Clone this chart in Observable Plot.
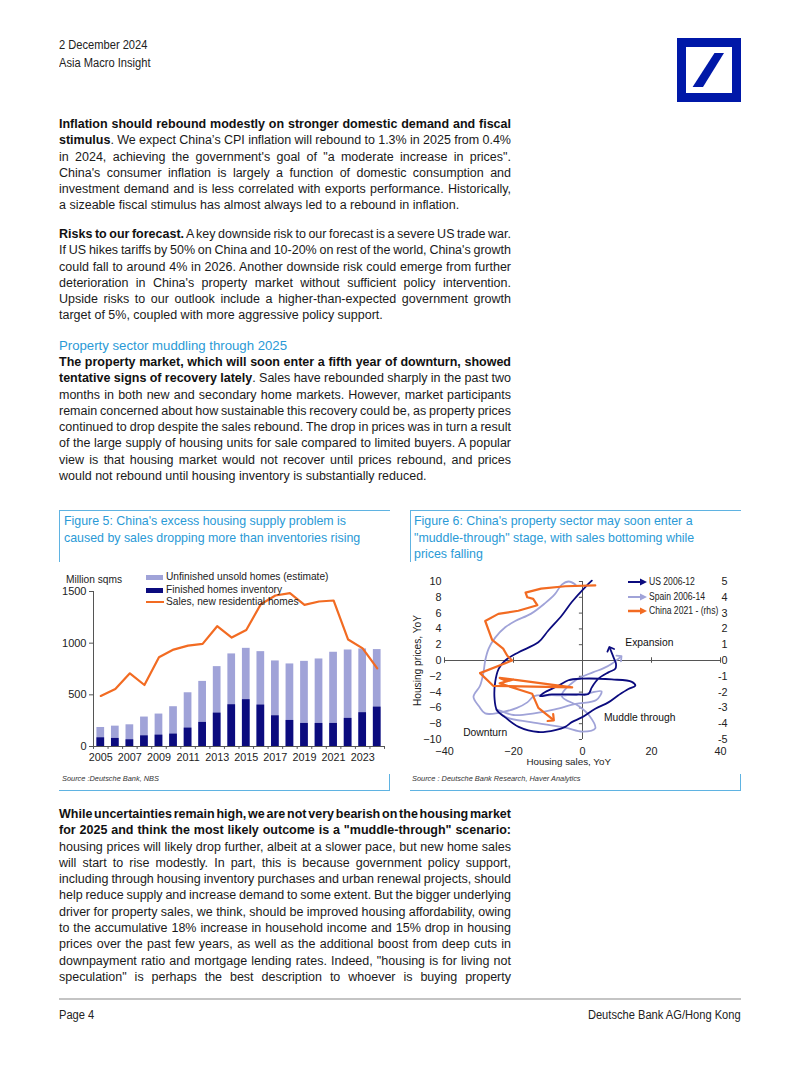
<!DOCTYPE html>
<html><head><meta charset="utf-8">
<script src="https://cdn.jsdelivr.net/npm/d3@7"></script>
<script src="https://cdn.jsdelivr.net/npm/@observablehq/plot@0.6"></script>
<style>
html,body{margin:0;padding:0;background:#fff;}
body{width:802px;height:1068px;position:relative;overflow:hidden;font-family:"Liberation Sans",Arial,sans-serif;color:#1a1a1a;}
.abs{position:absolute;}
.hdr{font-family:"Liberation Sans",Arial,sans-serif;font-size:12.5px;color:#222;white-space:nowrap;transform:scaleX(0.89);transform-origin:left top;}
.hdr.r{transform-origin:right top;}
.para{position:absolute;left:59px;width:452px;font-size:12.5px;line-height:16.3px;color:#1a1a1a;}
.ln{white-space:nowrap;height:16.3px;}
.ln b{font-weight:bold;color:#111;}
.head{position:absolute;left:59px;font-size:13.2px;color:#2a9ad6;white-space:nowrap;}
.ftitle{position:absolute;font-size:12.4px;line-height:16.6px;color:#2a9ad6;white-space:nowrap;}
.hline{position:absolute;height:1px;background:#5fb3e2;}
.vline{position:absolute;width:1px;background:#5fb3e2;}
.src{position:absolute;font-size:7.4px;font-style:italic;color:#333;white-space:nowrap;}
.leg{position:absolute;font-size:10.2px;color:#222;white-space:nowrap;line-height:12px;}
.leg6{position:absolute;font-size:10px;color:#222;white-space:nowrap;line-height:12px;transform:scaleX(0.86);transform-origin:left top;}
.chart{position:absolute;}
</style>
</head><body>

<div class="abs hdr" style="left:59px;top:38px;">2 December 2024</div>
<div class="abs hdr" style="left:59px;top:56px;">Asia Macro Insight</div>
<svg class="abs" style="left:677px;top:38px" width="64" height="64" viewBox="0 0 64 64">
  <rect x="4.5" y="4.5" width="55" height="55" fill="none" stroke="#0018a8" stroke-width="9"/>
  <polygon points="15.6,49 26,49 47,15 37.5,15" fill="#0018a8"/>
</svg>

<div class="para" style="top:116px;">
  <div class="ln j"><span><b>Inflation should rebound modestly on stronger domestic demand and fiscal</b></span></div>
  <div class="ln j"><span><b>stimulus</b>. We expect China’s CPI inflation will rebound to 1.3% in 2025 from 0.4%</span></div>
  <div class="ln j"><span>in 2024, achieving the government's goal of "a moderate increase in prices".</span></div>
  <div class="ln j"><span>China's consumer inflation is largely a function of domestic consumption and</span></div>
  <div class="ln j"><span>investment demand and is less correlated with exports performance. Historically,</span></div>
  <div class="ln"><span>a sizeable fiscal stimulus has almost always led to a rebound in inflation.</span></div>
</div>

<div class="para" style="top:226px;">
  <div class="ln j"><span><b>Risks to our forecast.</b> A key downside risk to our forecast is a severe US trade war.</span></div>
  <div class="ln j"><span>If US hikes tariffs by 50% on China and 10-20% on rest of the world, China's growth</span></div>
  <div class="ln j"><span>could fall to around 4% in 2026. Another downside risk could emerge from further</span></div>
  <div class="ln j"><span>deterioration in China's property market without sufficient policy intervention.</span></div>
  <div class="ln j"><span>Upside risks to our outlook include a higher-than-expected government growth</span></div>
  <div class="ln"><span>target of 5%, coupled with more aggressive policy support.</span></div>
</div>

<div class="head" style="top:338px;">Property sector muddling through 2025</div>

<div class="para" style="top:354px;">
  <div class="ln j"><span><b>The property market, which will soon enter a fifth year of downturn, showed</b></span></div>
  <div class="ln j"><span><b>tentative signs of recovery lately</b>. Sales have rebounded sharply in the past two</span></div>
  <div class="ln j"><span>months in both new and secondary home markets. However, market participants</span></div>
  <div class="ln j"><span>remain concerned about how sustainable this recovery could be, as property prices</span></div>
  <div class="ln j"><span>continued to drop despite the sales rebound. The drop in prices was in turn a result</span></div>
  <div class="ln j"><span>of the large supply of housing units for sale compared to limited buyers. A popular</span></div>
  <div class="ln j"><span>view is that housing market would not recover until prices rebound, and prices</span></div>
  <div class="ln"><span>would not rebound until housing inventory is substantially reduced.</span></div>
</div>

<!-- Figure 5 frame -->
<div class="hline" style="left:59px;top:510px;width:331px;"></div>
<div class="vline" style="left:59px;top:510px;height:52px;"></div>
<div class="hline" style="left:59px;top:790px;width:331px;"></div>
<div class="vline" style="left:389px;top:774px;height:16px;"></div>
<div class="ftitle" style="left:64px;top:513px;">Figure 5: China's excess housing supply problem is<br>caused by sales dropping more than inventories rising</div>
<div class="src" style="left:62px;top:774px;">Source :Deutsche Bank, NBS</div>

<!-- Figure 6 frame -->
<div class="hline" style="left:410px;top:510px;width:331px;"></div>
<div class="vline" style="left:410px;top:510px;height:52px;"></div>
<div class="hline" style="left:410px;top:790px;width:331px;"></div>
<div class="vline" style="left:740px;top:774px;height:16px;"></div>
<div class="ftitle" style="left:414px;top:513px;">Figure 6: China's property sector may soon enter a<br>"muddle-through" stage, with sales bottoming while<br>prices falling</div>
<div class="src" style="left:412px;top:774px;">Source : Deutsche Bank Research, Haver Analytics</div>

<div id="chart5" class="chart" style="left:59px;top:570px;"></div>
<div id="chart6" class="chart" style="left:410px;top:570px;"></div>

<!-- legends -->
<div class="leg" style="left:66px;top:574px;">Million sqms</div>
<div class="abs" style="left:146px;top:574.5px;width:17px;height:5px;background:#a0a3d8;"></div>
<div class="leg" style="left:166px;top:571px;">Unfinished unsold homes (estimate)</div>
<div class="abs" style="left:146px;top:587.5px;width:17px;height:5px;background:#0b0b7e;"></div>
<div class="leg" style="left:166px;top:584px;">Finished homes inventory</div>
<div class="abs" style="left:146px;top:601px;width:18px;height:2px;background:#f26b22;"></div>
<div class="leg" style="left:166px;top:596px;">Sales, new residential homes</div>

<svg class="abs" style="left:627px;top:577px" width="22" height="40">
  <line x1="1" y1="5" x2="15" y2="5" stroke="#0b0b7e" stroke-width="2"/><polygon points="13,1.5 20,5 13,8.5" fill="#0b0b7e"/>
  <line x1="1" y1="20" x2="15" y2="20" stroke="#a0a3d8" stroke-width="2"/><polygon points="13,16.5 20,20 13,23.5" fill="#a0a3d8"/>
  <line x1="1" y1="34" x2="15" y2="34" stroke="#f26b22" stroke-width="2.5"/><polygon points="13,30.5 20,34 13,37.5" fill="#f26b22"/>
</svg>
<div class="leg6" style="left:649px;top:576px;">US 2006-12</div>
<div class="leg6" style="left:649px;top:591px;">Spain 2006-14</div>
<div class="leg6" style="left:649px;top:605px;">China 2021 - (rhs)</div>

<div class="para" style="top:806px;">
  <div class="ln j"><span><b>While uncertainties remain high, we are not very bearish on the housing market</b></span></div>
  <div class="ln j"><span><b>for 2025 and think the most likely outcome is a "muddle-through" scenario:</b></span></div>
  <div class="ln j"><span>housing prices will likely drop further, albeit at a slower pace, but new home sales</span></div>
  <div class="ln j"><span>will start to rise modestly. In part, this is because government policy support,</span></div>
  <div class="ln j"><span>including through housing inventory purchases and urban renewal projects, should</span></div>
  <div class="ln j"><span>help reduce supply and increase demand to some extent. But the bigger underlying</span></div>
  <div class="ln j"><span>driver for property sales, we think, should be improved housing affordability, owing</span></div>
  <div class="ln j"><span>to the accumulative 18% increase in household income and 15% drop in housing</span></div>
  <div class="ln j"><span>prices over the past few years, as well as the additional boost from deep cuts in</span></div>
  <div class="ln j"><span>downpayment ratio and mortgage lending rates. Indeed, "housing is for living not</span></div>
  <div class="ln j"><span>speculation" is perhaps the best description to whoever is buying property</span></div>
</div>

<div class="abs" style="left:59px;top:998px;width:682px;height:2px;background:#c4c4c4;"></div>
<div class="abs hdr" style="left:59px;top:1008px;">Page 4</div>
<div class="abs hdr r" style="right:61px;top:1008px;">Deutsche Bank AG/Hong Kong</div>

<script>
// ---------- Figure 5 data ----------
const years = [2005,2006,2007,2008,2009,2010,2011,2012,2013,2014,2015,2016,2017,2018,2019,2020,2021,2022,2023,2024];
const finishedInventory = [84,78,65,103,110,120,178,233,323,404,453,401,297,252,223,223,223,272,327,381];
const unfinishedUnsold = [100,119,145,182,204,265,342,397,450,492,497,517,531,547,601,624,689,662,617,557];
const salesNewHomes = [489,556,708,595,863,938,976,993,1164,1054,1128,1377,1461,1484,1371,1403,1413,1035,950,757];
const fig5YTicks = [0,500,1000,1500];
const fig5XLabels = [2005,2007,2009,2011,2013,2015,2017,2019,2021,2023];

// ---------- Figure 6 data ----------
const usSales = [2.7,0.8,-3.1,-6,-9.9,-12.8,-18.5,-22.4,-24.3,-25.3,-25.5,-24.8,-22.4,-18.5,-12.8,-7.9,-5,-3.1,-0.2,3.7,7.5,10.4,13.3,15.3,14.3,8.5,-0.2,-4.1,-7,-10.8,-12.3,-8.9,-1.2,1.7,2.7,4.6,7.5,9.5,9.7,9,8];
const usPrices = [10.1,9.3,7.4,5.7,3.8,2.3,1.05,0,-1.05,-2.7,-4.8,-6.3,-7.2,-8.4,-9.05,-8.8,-8.4,-7.8,-7.2,-6.1,-5.3,-4.4,-3.6,-3.2,-2.7,-2.4,-2.3,-2.5,-3.2,-4,-4.5,-4.3,-4.3,-4.25,-3.4,-2.3,-1.5,-1.05,-0.4,0.4,1.5];
const spainSales = [-2,-4,-6,-8,-11,-15,-19.5,-22.4,-25.3,-27.2,-28.2,-28.7,-29.7,-31.6,-30,-28.2,-24,-19,-16,-14,-10,-5,0,5.5,4,-2,-8,-14,-20,-25,-22,-15,-5,0,3.7,2,-1,-6,-2,3,6,8.5,10.9];
const spainPrices = [9.6,10,9.6,8.4,7.2,5.9,5.0,4.2,2.9,1.5,0,-1.5,-3.2,-4.6,-5.8,-6.7,-6.6,-6.0,-5.3,-4.5,-4.4,-4.4,-4.3,-3.9,-5,-5.5,-6.2,-6.7,-6.9,-6.2,-7.2,-7.8,-8.5,-9,-8.6,-7.0,-5.8,-4.5,-2.5,-1.5,-1.0,-0.4,0.4];
const chinaSales = [3.7,-5,-12,-16.5,-16,-14.3,-13.1,-18.6,-24.4,-28.2,-26.2,-23,-21.8,-20.4,-29.7,-25.9,-3,-24,-22,-20,-24,-14.6,-12.8,-8.8];
const chinaPricesRhs = [4.75,4.7,4.55,4.3,4.0,3.9,3.5,3.15,2.95,2.5,1.3,0.75,0.3,0,-0.8,-1.6,-1.7,-1.1,-1.3,-1.2,-1.45,-2.1,-3.0,-3.7];
const fig6XTicks = [-40,-20,0,20,40];
const fig6YTicks = [-10,-8,-6,-4,-2,0,2,4,6,8,10];
const fig6RhsLabels = [-5,-4,-3,-2,-1,0,1,2,3,4,5];
const quadrantLabels = ["Expansion","Muddle through","Downturn"];
const quadrantX = [12.4,6.2,-34.6];
const quadrantY = [2.3,-7.3,-9.1];

const NAVY = "#0b0b7e", LAV = "#a0a3d8", ORANGE = "#f26b22";
const font = {fontSize:"10.5px", fontFamily:"'Liberation Sans', Arial, sans-serif", color:"#222", background:"transparent", overflow:"visible"};

// ---------- Figure 5 ----------
const rows5 = years.map((y,i)=>({year:y, finished:finishedInventory[i], total:finishedInventory[i]+unfinishedUnsold[i], sales:salesNewHomes[i]}));
const bounds = d3.range(2004.5, 2025, 1);
const chart5 = Plot.plot({
  width:331, height:200, marginLeft:34, marginRight:6, marginTop:21, marginBottom:24,
  style: font,
  x:{domain:[2004.5,2024.5]},
  y:{domain:[0,1500]},
  marks:[
    Plot.rectY(rows5, {x1:d=>d.year-0.265, x2:d=>d.year+0.265, y:"total", fill:LAV}),
    Plot.rectY(rows5, {x1:d=>d.year-0.265, x2:d=>d.year+0.265, y:"finished", fill:NAVY}),
    Plot.lineY(rows5, {x:"year", y:"sales", stroke:ORANGE, strokeWidth:2.2}),
    Plot.ruleY([0], {stroke:"#555"}),
    Plot.ruleX([2004.5], {stroke:"#555"}),
    Plot.ruleX(bounds, {x:d=>d, y1:0, y2:-28, stroke:"#555"}),
    Plot.axisY({ticks:fig5YTicks, tickSize:4, tickPadding:3, tickFormat:d=>String(d), label:null, stroke:"#555", fontSize:11}),
    Plot.axisX({ticks:fig5XLabels, tickSize:0, tickPadding:7, tickFormat:d=>String(d), label:null, fontSize:10.8})
  ]
});
document.getElementById("chart5").appendChild(chart5);

// ---------- Figure 6 ----------
const us = usSales.map((x,i)=>({x, y:usPrices[i]}));
const spain = spainSales.map((x,i)=>({x, y:spainPrices[i]}));
const china = chinaSales.map((x,i)=>({x, y:chinaPricesRhs[i]*2}));
const quads = quadrantLabels.map((t,i)=>({t, x:quadrantX[i], y:quadrantY[i]}));
const chart6 = Plot.plot({
  width:331, height:200, marginLeft:34, marginRight:21, marginTop:11, marginBottom:31,
  style: font,
  x:{domain:[-40,40]},
  y:{domain:[-10,10]},
  marks:[
    Plot.ruleY([0], {stroke:"#555"}),
    Plot.ruleX([0], {stroke:"#555"}),
    Plot.ruleX(fig6XTicks, {x:d=>d, y1:-0.35, y2:0.35, stroke:"#555"}),
    Plot.ruleY(fig6YTicks, {y:d=>d, x1:-0.9, x2:0, stroke:"#555"}),
    Plot.line(spain, {x:"x", y:"y", stroke:LAV, strokeWidth:1.8, curve:"catmull-rom", markerEnd:"arrow"}),
    Plot.line(us, {x:"x", y:"y", stroke:NAVY, strokeWidth:1.8, curve:"catmull-rom", markerEnd:"arrow"}),
    Plot.line(china, {x:"x", y:"y", stroke:ORANGE, strokeWidth:2.2, curve:"linear", markerEnd:"arrow"}),
    Plot.text(quads, {x:"x", y:"y", text:"t", textAnchor:"start", fill:"#111", fontSize:10.3}),
    Plot.axisY({ticks:fig6YTicks, tickSize:0, tickPadding:3, label:null, fontSize:10.8}),
    Plot.text(fig6YTicks, {y:d=>d, text:(d,i)=>String(fig6RhsLabels[i]), frameAnchor:"right", textAnchor:"end", dx:7, fill:"#222", fontSize:10.8}),
    Plot.axisX({ticks:fig6XTicks, tickSize:0, tickPadding:7.5, label:null, fontSize:10.8}),
    Plot.text(["Housing sales, YoY"], {x:-4, frameAnchor:"bottom", dy:25.5, fill:"#222", fontSize:9.8}),
    Plot.text(["Housing prices, YoY"], {y:0, frameAnchor:"left", textAnchor:"middle", rotate:-90, dx:-27, fill:"#222", fontSize:10.2})
  ]
});
document.getElementById("chart6").appendChild(chart6);

// ---------- justify text lines to the column width ----------
document.querySelectorAll(".ln.j").forEach(el => {
  const span = el.firstElementChild;
  const w = span.getBoundingClientRect().width;
  const spaces = (span.textContent.match(/ /g) || []).length;
  if (spaces) span.style.wordSpacing = ((452 - w) / spaces) + "px";
});
document.querySelectorAll(".ln:not(.j)").forEach(el => {
  const span = el.firstElementChild;
  const w = span.getBoundingClientRect().width;
  if (w > 452) {
    const spaces = (span.textContent.match(/ /g) || []).length;
    span.style.wordSpacing = ((452 - w) / spaces) + "px";
  }
});
</script>
</body></html>
